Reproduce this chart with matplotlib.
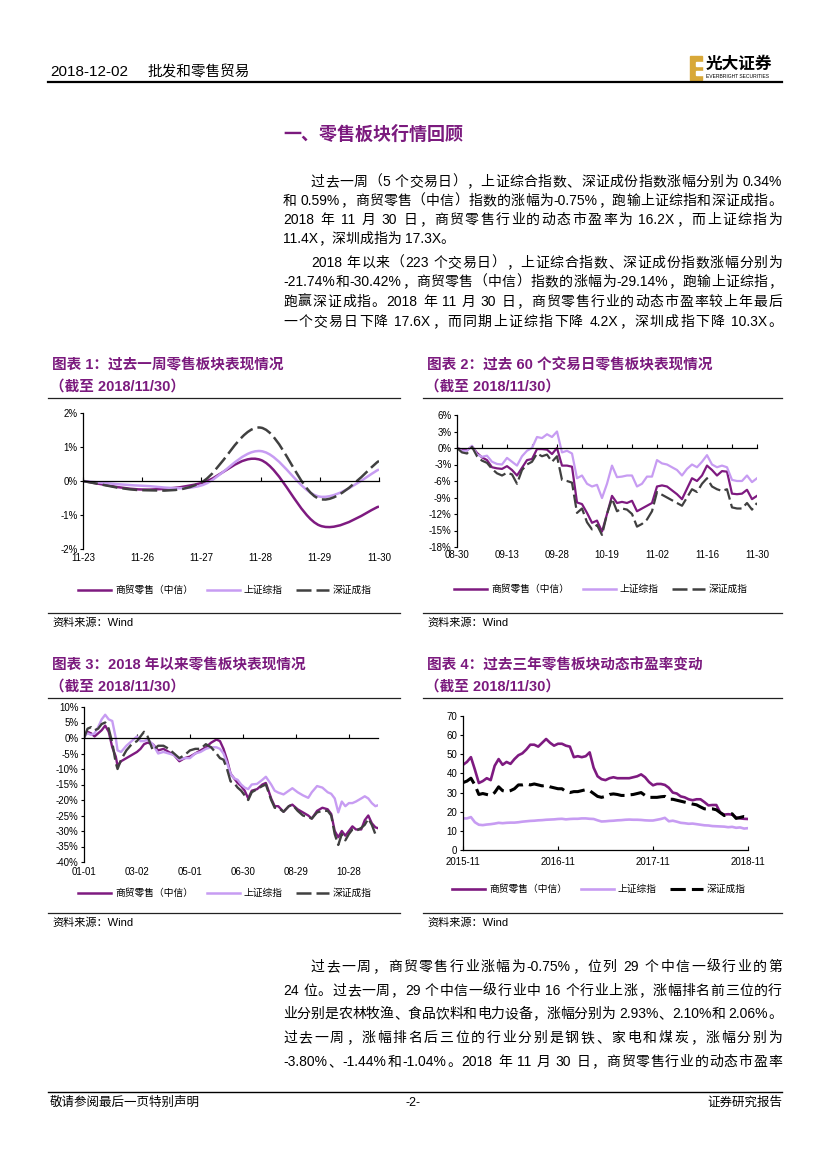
import numpy as np
import matplotlib
matplotlib.use('Agg')
import matplotlib.pyplot as plt
from matplotlib.path import Path
from matplotlib.patches import PathPatch, Rectangle
from matplotlib.lines import Line2D

plt.rcParams['font.family'] = ['Liberation Sans', 'Noto Sans CJK SC', 'DejaVu Sans']
plt.rcParams['axes.unicode_minus'] = False

W, H = 827, 1169
PURPLE = '#7E1A80'
LIGHT = '#C79CF2'
DARK = '#404040'
TITLE_C = '#7B1A7E'

# ---------------- 数据 ----------------
legend_labels = ['商贸零售（中信）', '上证综指', '深证成指']

# 图表1: 过去一周 (%)
c1_dates = ['11-23', '11-26', '11-27', '11-28', '11-29', '11-30']
c1_retail = [0, -0.25, -0.06, 0.62, -1.31, -0.75]
c1_sh = [0, -0.14, -0.13, 0.88, -0.46, 0.34]
c1_sz = [0, -0.27, -0.04, 1.57, -0.53, 0.59]

# 图表2: 过去60个交易日 (%)
c2_ticklabels = ['08-30', '09-13', '09-28', '10-19', '11-02', '11-16', '11-30']
c2_retail = [0, -0.3, -0.4, 0.3, -0.9, -1.7, -2.2, -3.5, -3.7, -3.8,
             -3.3, -4.0, -5.0, -3.6, -2.2, -2.0, -0.2, -0.2, -0.3, -1.1,
             0.0, -3.2, -3.2, -3.4, -9.9, -10.2, -11.8, -13.6, -13.2, -15.2,
             -12.0, -8.7, -10.0, -9.8, -10.0, -9.6, -11.5, -11.0, -10.5, -10.0,
             -7.0, -6.8, -7.0, -7.7, -8.4, -9.3, -7.4, -5.5, -6.0, -5.0,
             -3.2, -4.0, -5.0, -4.2, -4.3, -8.3, -8.4, -8.3, -7.6, -9.3, -8.7]
c2_sh = [0, -0.5, -0.5, 0.4, -1.2, -1.6, -1.4, -2.5, -2.9, -3.0,
         -1.8, -2.5, -3.2, -1.5, -0.5, 0.0, 2.0, 1.8, 2.5, 2.0,
         3.0, -0.8, -0.5, -1.0, -5.5, -5.0, -6.5, -7.0, -6.7, -9.1,
         -6.5, -3.2, -5.3, -5.2, -5.0, -5.0, -7.0, -6.5, -5.2, -5.2,
         -2.2, -2.8, -3.0, -3.5, -4.0, -5.0, -3.8, -3.0, -3.5, -2.5,
         -1.3, -3.0, -3.5, -3.2, -3.5, -5.8, -6.0, -6.0, -5.0, -6.2, -5.5]
c2_sz = [0, -0.8, -1.0, 0.2, -1.5, -2.3, -2.7, -3.8, -4.6, -5.0,
         -4.5, -4.8, -6.5, -4.0, -3.0, -2.5, -1.0, -1.5, -1.2, -2.5,
         -1.5, -5.8, -6.0, -6.3, -11.8, -11.0, -13.5, -14.8, -14.0, -15.8,
         -12.0, -9.2, -11.5, -11.0, -11.2, -12.0, -14.3, -13.8, -13.0, -11.5,
         -8.0, -8.5, -9.0, -9.5, -10.0, -10.5, -9.0, -7.5, -8.0, -6.5,
         -5.5, -7.0, -7.5, -7.8, -7.5, -10.8, -11.0, -11.0, -10.0, -11.2, -10.0]

# 图表3: 2018年以来 (%)，横轴为当年第几天
c3_ticklabels = ['01-01', '03-02', '05-01', '06-30', '08-29', '10-28']
c3_tickdays = [0, 60, 120, 180, 240, 300]
c3_day = [0, 2, 4, 8, 12, 16, 20, 24, 28, 32, 36, 38, 42, 48, 54,
          60, 64, 68, 72, 78, 84, 90, 96, 102, 108, 114,
          120, 126, 132, 138, 144, 150, 154, 158, 162, 166, 170, 174, 178,
          182, 186, 190, 196, 202, 206, 212, 216, 220, 226, 232, 236,
          242, 248, 254, 258, 264, 270, 276, 280, 284, 288, 292, 296, 300,
          304, 308, 314, 318, 322, 326, 330, 333]
c3_retail = [0, 1.5, 2.0, 1.5, 0.5, 1.5, 2.5, 4.0, 2.0, -3.0, -6.0, -9.0, -7.5, -6.5, -5.5,
             -4.5, -3.5, -2.0, -1.5, -2.0, -4.0, -3.5, -4.5, -5.5, -7.5, -6.5,
             -6.0, -5.0, -4.0, -3.0, -1.5, -0.5, -1.0, -3.5, -7.0, -11.5, -13.0, -14.5, -15.5,
             -17.0, -19.5, -17.0, -16.5, -15.0, -14.5, -19.5, -22.0, -22.0, -23.8, -22.0, -21.5,
             -23.0, -24.0, -25.0, -26.0, -23.5, -22.5, -23.0, -24.5, -30.0, -32.0, -30.0, -31.5, -30.0,
             -28.5, -29.5, -29.5, -26.5, -25.0, -27.5, -28.8, -29.1]
c3_sh = [0, 1.0, 1.5, 1.0, 1.5, 3.5, 6.0, 7.5, 6.0, 5.5, 0.0, -4.0, -4.5, -2.5, -1.0,
         0.5, -1.0, -1.0, -0.5, -2.0, -5.0, -4.5, -5.0, -5.5, -7.0, -6.5,
         -6.5, -5.0, -4.5, -3.5, -3.0, -3.0, -3.5, -5.0, -8.0, -11.5, -13.0, -13.5, -15.0,
         -16.0, -16.5, -15.0, -14.8, -13.5, -12.5, -15.0, -17.0, -17.6, -18.2, -17.0, -16.2,
         -17.5, -18.5, -19.3, -17.5, -15.5, -16.0, -17.5, -18.0, -19.5, -24.0, -20.5, -22.0, -21.0,
         -21.0, -20.5, -19.5, -18.8, -19.5, -21.0, -22.0, -21.7]
c3_sz = [0, 1.5, 3.0, 3.5, 2.5, 3.0, 4.5, 5.0, 3.0, -1.5, -8.0, -10.0, -7.0, -4.0, -2.0,
         -1.0, 0.5, 2.0, 0.5, -4.0, -2.5, -2.5, -3.5, -5.0, -6.5, -5.5,
         -4.0, -3.5, -3.5, -2.0, -3.0, -5.0, -6.5, -7.0, -10.0, -14.0, -14.5, -16.0, -17.0,
         -18.5, -20.0, -17.5, -16.5, -15.5, -15.0, -20.0, -22.5, -22.5, -23.8, -22.0, -21.5,
         -23.5, -25.0, -25.5, -26.0, -24.0, -23.5, -23.5, -25.0, -31.0, -34.5, -31.0, -33.0, -31.0,
         -29.5, -30.0, -29.0, -28.0, -26.0, -28.0, -31.0, -30.4]

# 图表4: 过去三年动态市盈率 (X)，横轴为自2015-11-30起的月数
c4_ticklabels = ['2015-11', '2016-11', '2017-11', '2018-11']
c4_tickmonths = [0, 12, 24, 36]
c4_month = np.arange(0, 36.5, 0.5)
c4_retail = [44.5, 46, 48.5, 42, 35, 36, 37.5, 36.5, 44, 47.5,
             44.5, 46, 45, 47.5, 49.5, 50.5, 52.5, 55, 55, 54,
             56, 58, 56, 54.5, 55.5, 55.5, 54.5, 54, 48.5, 49,
             48.5, 49, 51, 43, 38.5, 37, 36.5, 37.5, 38, 37.5,
             37.5, 37.5, 37.5, 38, 38.5, 39.5, 38, 35.5, 33.8, 34.5,
             34.5, 34, 32.5, 30, 29.5, 28, 27.5, 26.5, 26, 26.5,
             26.5, 25, 23.3, 23.5, 23.5, 19.5, 18.5, 18.7, 18.5, 17,
             16.5, 16.3, 16.2]
c4_sh = [16.5, 16.5, 17.2, 14.5, 13.2, 13, 13.3, 13.5, 13.8, 14.2,
         14, 14.2, 14.3, 14.3, 14.5, 14.8, 15, 15.2, 15.3, 15.5,
         15.6, 15.8, 15.9, 16, 16.2, 16.3, 16, 16.2, 16.3, 16.3,
         16.5, 16.5, 16.3, 16.2, 15.5, 14.9, 15, 15.2, 15.3, 15.5,
         15.6, 15.8, 15.9, 15.8, 15.8, 15.7, 15.5, 15.4, 15.4, 15.8,
         16.2, 16.8, 15, 15.3, 14.8, 14.2, 14, 13.7, 13.8, 13.5,
         13.2, 12.9, 12.8, 12.5, 12.4, 12.3, 12.2, 11.9, 12.1, 11.6,
         11.8, 11.2, 11.4]
c4_sz = [35.2, 36, 37.5, 34, 29, 29.5, 29, 28.5, 30, 33,
         31, 30.5, 31, 32, 34, 34, 34.5, 34, 34.5, 34,
         33.5, 33.8, 33, 32.5, 32, 32, 30.5, 30, 30.5, 30.5,
         31, 31.5, 31, 29.5, 28, 27.5, 28, 29, 29.3, 29,
         28.5, 28.5, 28.8, 29, 29.5, 30, 28.5, 27.5, 27.5, 27.5,
         27.8, 28, 26.5, 26.5, 26, 25.5, 25, 24.5, 24, 23.6,
         22.5, 21.5, 21.5, 21.5, 21, 19.5, 18, 18.5, 18.9, 16.5,
         17, 17.5, 17.3]

# 正文
para1 = ['过去一周（5 个交易日），上证综合指数、深证成份指数涨幅分别为 0.34%',
         '和 0.59%，商贸零售（中信）指数的涨幅为-0.75%，跑输上证综指和深证成指。',
         '2018 年 11 月 30 日，商贸零售行业的动态市盈率为 16.2X，而上证综指为',
         '11.4X，深圳成指为 17.3X。']
para2 = ['2018 年以来（223 个交易日），上证综合指数、深证成份指数涨幅分别为',
         '-21.74%和-30.42%，商贸零售（中信）指数的涨幅为-29.14%，跑输上证综指，',
         '跑赢深证成指。2018 年 11 月 30 日，商贸零售行业的动态市盈率较上年最后',
         '一个交易日下降 17.6X，而同期上证综指下降 4.2X，深圳成指下降 10.3X。']
para3 = ['过去一周，商贸零售行业涨幅为-0.75%，位列 29 个中信一级行业的第',
         '24 位。过去一周，29 个中信一级行业中 16 个行业上涨，涨幅排名前三位的行',
         '业分别是农林牧渔、食品饮料和电力设备，涨幅分别为 2.93%、2.10%和 2.06%。',
         '过去一周，涨幅排名后三位的行业分别是钢铁、家电和煤炭，涨幅分别为',
         '-3.80%、-1.44%和-1.04%。2018 年 11 月 30 日，商贸零售行业的动态市盈率']

# ---------------- 画布 ----------------
fig = plt.figure(figsize=(8.27, 11.69), dpi=100, facecolor='white')
renderer = fig.canvas.get_renderer()


def fx(x):
    return x / W


def fy(y):
    return 1 - y / H


def hline(x0, x1, y, lw=0.8, color='black'):
    fig.add_artist(Line2D([fx(x0), fx(x1)], [fy(y), fy(y)], lw=lw, color=color,
                          transform=fig.transFigure))


def add_axes(l, t, r, b):
    return fig.add_axes([fx(l), fy(b), (r - l) / W, (b - t) / H])


def split_tokens(s):
    out, buf = [], ''
    for ch in s:
        if ch == ' ':
            if buf:
                out.append(buf)
                buf = ''
            out.append(' ')
        elif ord(ch) < 128:
            buf += ch
        else:
            if buf:
                out.append(buf)
                buf = ''
            out.append(ch)
    if buf:
        out.append(buf)
    return out


def put_line(s, x0, x1, y, size=10, justify=True):
    toks = split_tokens(s)
    arts, widths = [], []
    for t in toks:
        if t == ' ':
            arts.append(None)
            widths.append(size * 100 / 72 * 0.25)
            continue
        a = fig.text(0, 0, t, fontsize=size, va='baseline', ha='left')
        arts.append(a)
        widths.append(a.get_window_extent(renderer).width)
    gap = 0
    if justify and len(toks) > 1:
        gap = (x1 - x0 - sum(widths)) / (len(toks) - 1)
    x = x0
    for a, w in zip(arts, widths):
        if a is not None:
            a.set_position((fx(x), fy(y + 5)))
        x += w + gap


def put_para(lines, ys, x0=283, x1=782, size=10, last_full=False):
    for i, (s, y) in enumerate(zip(lines, ys)):
        start = x0 + (2 * size * 100 / 72 if i == 0 else 0)
        just = (i < len(lines) - 1) or last_full
        put_line(s, start, x1, y, size, just)


def smooth_path(x, y):
    x = np.asarray(x, float)
    y = np.asarray(y, float)
    n = len(x)
    verts = [(x[0], y[0])]
    codes = [Path.MOVETO]
    for i in range(n - 1):
        a, b = max(i - 1, 0), min(i + 2, n - 1)
        c1 = (x[i] + (x[i + 1] - x[a]) / 6, y[i] + (y[i + 1] - y[a]) / 6)
        c2 = (x[i + 1] - (x[b] - x[i]) / 6, y[i + 1] - (y[b] - y[i]) / 6)
        verts += [c1, c2, (x[i + 1], y[i + 1])]
        codes += [Path.CURVE4] * 3
    return Path(verts, codes)


def style_axes(ax, yticks, ylabels, xticks, label_pos, xlabels, pad, zero_axis=True):
    for s in ['top', 'right']:
        ax.spines[s].set_visible(False)
    ax.spines['left'].set_linewidth(0.9)
    ax.spines['bottom'].set_linewidth(0.9)
    if zero_axis:
        ax.spines['bottom'].set_position(('data', 0))
    ax.set_yticks(yticks)
    ax.set_yticklabels(ylabels)
    ax.tick_params(axis='y', direction='out', length=2.5, width=0.8, labelsize=7, pad=1.5)
    ax.set_xticks(xticks)
    ax.set_xticklabels([])
    ax.tick_params(axis='x', direction='in', length=3, width=0.8)
    for p, lab in zip(label_pos, xlabels):
        ax.annotate(lab, (p, 0), xycoords=ax.get_xaxis_transform(), xytext=(0, -pad),
                    textcoords='offset points', ha='center', va='top', fontsize=7)
    ax.set_facecolor('none')


def legend_at(ax, handles, cx, cy):
    ax.legend(handles, legend_labels, loc='center', bbox_to_anchor=(fx(cx), fy(cy)),
              bbox_transform=fig.transFigure, ncol=3, frameon=False, fontsize=7,
              handlelength=3.4, handletextpad=0.4, columnspacing=1.4, borderpad=0)


def chart_frame(x0, x1, title, y_title):
    fig.text(fx(x0 + 2), fy(y_title), title, fontsize=10.5, weight='bold', color=TITLE_C, va='center')
    fig.text(fx(x0), fy(y_title + 22), '（截至 2018/11/30）', fontsize=10.5, weight='bold',
             color=TITLE_C, va='center')
    hline(x0 - 2, x1, y_title + 33, lw=0.9, color='#222222')
    hline(x0 - 2, x1, y_title + 248, lw=0.9, color='#222222')
    fig.text(fx(x0 + 2), fy(y_title + 258), '资料来源：Wind', fontsize=8, va='center')


dash = (0, (6, 2))

# ---------------- 页眉 ----------------
fig.text(fx(50), fy(72), '2018-12-02', fontsize=11, va='center')
fig.text(fx(148), fy(72), '批发和零售贸易', fontsize=10.5, va='center')
hline(48, 782, 82, lw=1.6)
fig.add_artist(Rectangle((fx(690), fy(80)), 12 / W, 24 / H, color='#D8A838', transform=fig.transFigure))
for yy in (62, 71):
    fig.add_artist(Rectangle((fx(696), fy(yy + 4)), 7 / W, 4 / H, color='white', transform=fig.transFigure))
fig.text(fx(706), fy(64), '光大证券', fontsize=12, weight='bold', va='center')
fig.text(fx(706), fy(76.5), 'EVERBRIGHT SECURITIES', fontsize=3.6, va='center')

fig.text(fx(283), fy(135), '一、零售板块行情回顾', fontsize=13, weight='bold', color=TITLE_C, va='center')

put_para(para1, [181, 200, 219, 238])
put_para(para2, [262, 281, 301, 321], last_full=True)
put_para(para3, [966, 990, 1013, 1037, 1061], last_full=True)

# ---------------- 图表1 ----------------
chart_frame(50, 400, '图表 1：过去一周零售板块表现情况', 365)
ax1 = add_axes(83, 413, 379, 549)
ax1.set_xlim(0, 5)
ax1.set_ylim(-2, 2)
x1 = np.arange(len(c1_dates))
for vals, col, ls in [(c1_retail, PURPLE, '-'), (c1_sh, LIGHT, '-'), (c1_sz, DARK, dash)]:
    ax1.add_patch(PathPatch(smooth_path(x1, vals), fill=False, edgecolor=col, lw=1.8,
                            linestyle=ls, capstyle='butt'))
style_axes(ax1, [-2, -1, 0, 1, 2], ['-2%', '-1%', '0%', '1%', '2%'], x1, x1, c1_dates, 3)
h = [Line2D([], [], color=PURPLE, lw=1.8), Line2D([], [], color=LIGHT, lw=1.8),
     Line2D([], [], color=DARK, lw=1.8, linestyle=dash)]
legend_at(ax1, h, 225, 590)

# ---------------- 图表2 ----------------
chart_frame(425, 782, '图表 2：过去 60 个交易日零售板块表现情况', 365)
ax2 = add_axes(457, 415, 757, 547)
x2 = np.arange(len(c2_retail))
ax2.set_xlim(0, 60)
ax2.set_ylim(-18, 6)
ax2.plot(x2, c2_retail, color=PURPLE, lw=1.6)
ax2.plot(x2, c2_sh, color=LIGHT, lw=1.6)
ax2.plot(x2, c2_sz, color=DARK, lw=1.6, linestyle=dash)
style_axes(ax2, np.arange(-18, 7, 3), ['%d%%' % v for v in range(-18, 7, 3)],
           np.arange(0, 61, 5), np.arange(0, 61, 10), c2_ticklabels, 2)
h = [Line2D([], [], color=PURPLE, lw=1.8), Line2D([], [], color=LIGHT, lw=1.8),
     Line2D([], [], color=DARK, lw=1.8, linestyle=dash)]
legend_at(ax2, h, 601, 589)

# ---------------- 图表3 ----------------
chart_frame(50, 400, '图表 3：2018 年以来零售板块表现情况', 665)
ax3 = add_axes(84, 707, 378, 862)
ax3.set_xlim(0, 333)
ax3.set_ylim(-40, 10)
ax3.plot(c3_day, c3_retail, color=PURPLE, lw=1.7)
ax3.plot(c3_day, c3_sh, color=LIGHT, lw=1.7)
ax3.plot(c3_day, c3_sz, color=DARK, lw=1.7, linestyle=dash)
style_axes(ax3, np.arange(-40, 11, 5), ['%d%%' % v for v in range(-40, 11, 5)],
           c3_tickdays, c3_tickdays, c3_ticklabels, 3.5)
h = [Line2D([], [], color=PURPLE, lw=1.8), Line2D([], [], color=LIGHT, lw=1.8),
     Line2D([], [], color=DARK, lw=1.8, linestyle=dash)]
legend_at(ax3, h, 225, 893)

# ---------------- 图表4 ----------------
chart_frame(425, 782, '图表 4：过去三年零售板块动态市盈率变动', 665)
ax4 = add_axes(463, 716, 748, 850)
ax4.set_xlim(0, 36)
ax4.set_ylim(0, 70)
ax4.plot(c4_month, c4_retail, color=PURPLE, lw=1.9)
ax4.plot(c4_month, c4_sh, color=LIGHT, lw=1.9)
ax4.plot(c4_month, c4_sz, color='black', lw=2.2, linestyle=(0, (5, 2)))
style_axes(ax4, np.arange(0, 71, 10), [str(v) for v in range(0, 71, 10)],
           c4_tickmonths, c4_tickmonths, c4_ticklabels, 5, zero_axis=False)
h = [Line2D([], [], color=PURPLE, lw=1.9), Line2D([], [], color=LIGHT, lw=1.9),
     Line2D([], [], color='black', lw=2.2, linestyle=(0, (5, 2)))]
legend_at(ax4, h, 599, 889)

# ---------------- 页脚 ----------------
hline(48, 782, 1092, lw=1.0)
fig.text(fx(50), fy(1103), '敬请参阅最后一页特别声明', fontsize=9, va='center')
fig.text(fx(413), fy(1103), '-2-', fontsize=9, va='center', ha='center')
fig.text(fx(782), fy(1103), '证券研究报告', fontsize=9, va='center', ha='right')

fig.savefig('out.png', dpi=100, facecolor='white')
